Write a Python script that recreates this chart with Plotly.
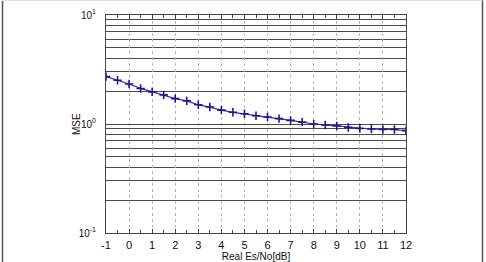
import plotly.graph_objects as go

snr_db = [-1, -0.5, 0, 0.5, 1, 1.5, 2, 2.5, 3, 3.5, 4, 4.5, 5, 5.5, 6, 6.5,
          7, 7.5, 8, 8.5, 9, 9.5, 10, 10.5, 11, 11.5, 12]
mse = [2.72, 2.52, 2.33, 2.12, 1.97, 1.85, 1.71, 1.63, 1.50, 1.43, 1.34, 1.28,
       1.24, 1.19, 1.16, 1.12, 1.08, 1.04, 1.00, 0.98, 0.96, 0.93, 0.91, 0.90,
       0.89, 0.89, 0.87]

x_ticks = list(range(-1, 13))
x_minor = [v + 0.5 for v in range(-1, 12)]
y_ticks = [0.1, 1, 10]
y_ticktext = ["10<sup>-1</sup>", "10<sup>0</sup>", "10<sup>1</sup>"]
y_minor = [m * d for d in (0.1, 1) for m in range(2, 10)] + [1]

W, H = 486, 262
L, R, T, B = 106, 80, 15, 29

fig = go.Figure()
fig.add_trace(go.Scatter(
    x=snr_db, y=mse, mode="lines+markers",
    line=dict(color="#3030c0", width=1.2),
    marker=dict(symbol="cross-thin", size=6, line=dict(color="#1a1a90", width=1.6)),
    showlegend=False,
))

font = dict(family="Liberation Sans, Arial, sans-serif", size=10, color="#111")

px = lambda p: (p - L) / (W - L - R)
py = lambda p: (H - B - p) / (H - T - B)

fig.update_layout(
    width=W, height=H,
    margin=dict(l=L, r=R, t=T, b=B, pad=0, autoexpand=False),
    paper_bgcolor="white", plot_bgcolor="white",
    font=font,
    xaxis=dict(
        range=[-1, 12], tickvals=x_ticks, ticktext=[str(v) for v in x_ticks],
        showline=True, linecolor="#444", linewidth=1, mirror="allticks",
        ticks="inside", ticklen=4, tickcolor="#444",
        showgrid=True, gridcolor="#b8b8b8", griddash="dot", gridwidth=1,
        zeroline=False, automargin=False,
        minor=dict(tickvals=x_minor, ticks="inside", ticklen=3, tickcolor="#444", showgrid=False),
        title=dict(text="Real Es/No[dB]", font=dict(size=10), standoff=3),
        tickfont=dict(size=11), ticklabelstandoff=2,
    ),
    yaxis=dict(
        type="log", range=[-1, 1], tickvals=y_ticks, ticktext=y_ticktext,
        showline=True, linecolor="#444", linewidth=1, mirror="allticks",
        ticks="inside", ticklen=4, tickcolor="#444",
        showgrid=True, gridcolor="#4a4a4a", gridwidth=1,
        zeroline=False, automargin=False,
        minor=dict(tickvals=y_minor, ticks="", showgrid=True, gridcolor="#4a4a4a", gridwidth=1),
        tickfont=dict(size=10), ticklabelstandoff=7,
    ),
    annotations=[dict(text="MSE", textangle=-90, xref="paper", yref="paper",
                      x=px(76), y=0.5, showarrow=False, font=dict(size=10),
                      xanchor="center", yanchor="middle")],
)

# outer frame (left/right edges of the figure panel)
fig.add_shape(type="line", xref="paper", yref="paper",
              x0=px(2.5), x1=px(2.5), y0=py(1), y1=py(262),
              line=dict(color="#555", width=1.5))
fig.add_shape(type="line", xref="paper", yref="paper",
              x0=px(482.5), x1=px(482.5), y0=py(0), y1=py(262),
              line=dict(color="#555", width=1.5))
fig.add_shape(type="line", xref="paper", yref="paper",
              x0=px(2.5), x1=px(482.5), y0=py(0.5), y1=py(0.5),
              line=dict(color="#ddd", width=1))

fig.write_html("out.html")
